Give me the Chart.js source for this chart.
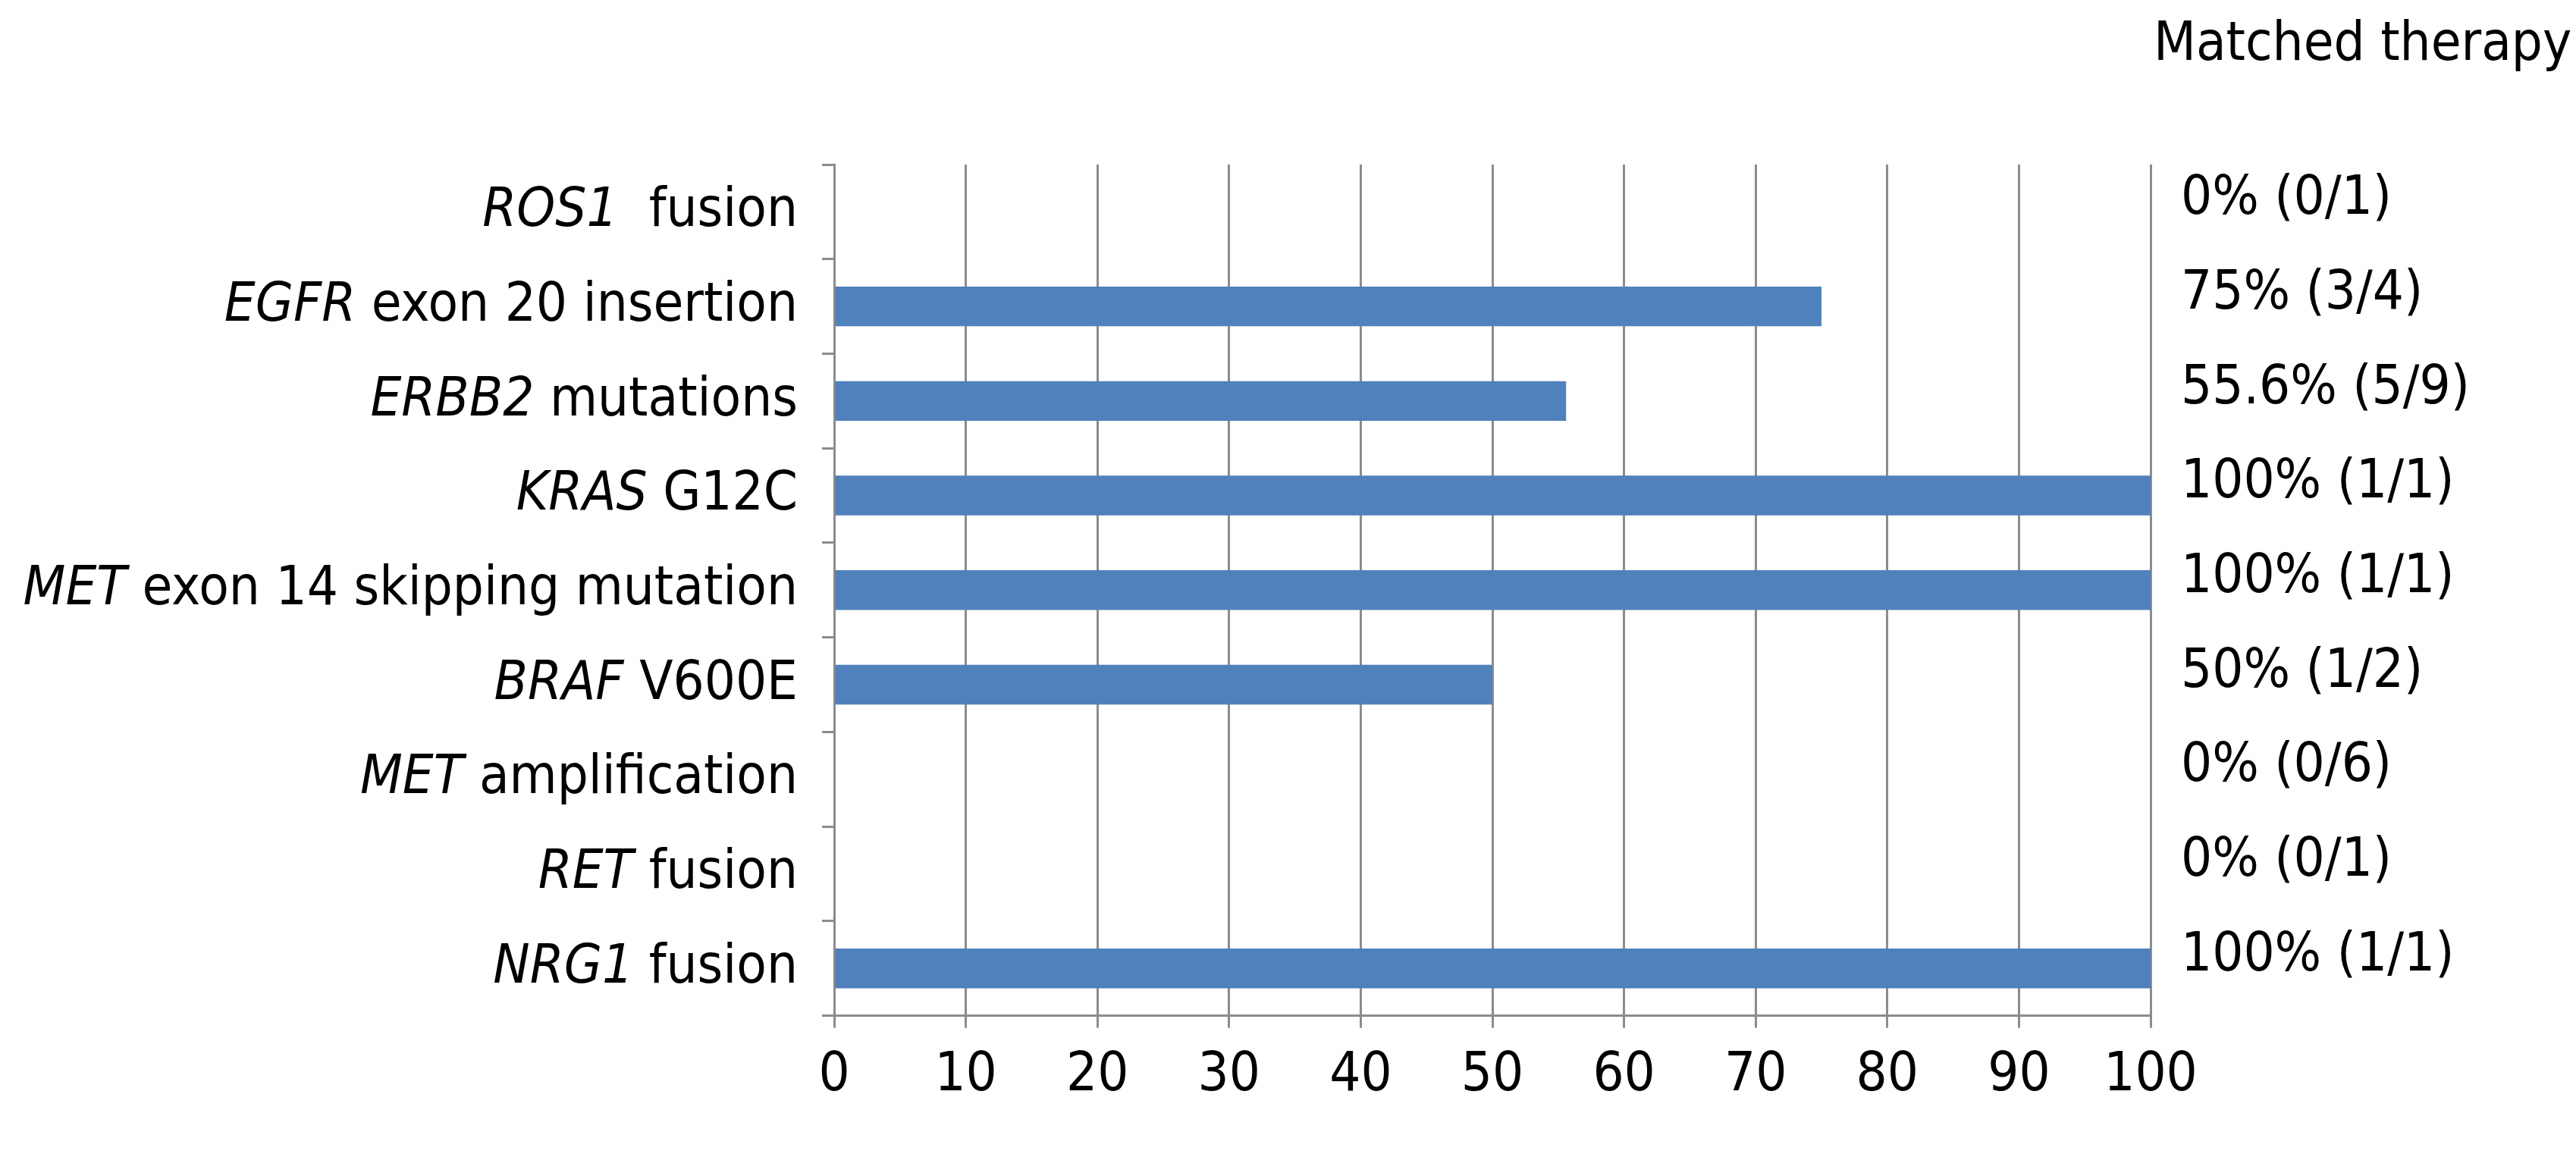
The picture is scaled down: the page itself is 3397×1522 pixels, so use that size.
<!DOCTYPE html>
<html><head><meta charset="utf-8">
<script src="https://cdn.jsdelivr.net/npm/chart.js@4"></script>
<style>html,body{margin:0;background:#fff}#wrap{width:3397px;height:1522px}</style>
</head><body><div id="wrap"><canvas id="c"></canvas></div>
<script>
const geneNames = ["ROS1","EGFR","ERBB2","KRAS","MET","BRAF","MET","RET","NRG1"];
const restNames = ["  fusion"," exon 20 insertion"," mutations"," G12C"," exon 14 skipping mutation"," V600E"," amplification"," fusion"," fusion"];
const values = [0,75,55.6,100,100,50,0,0,100];
const rightLabels = ["0% (0/1)","75% (3/4)","55.6% (5/9)","100% (1/1)","100% (1/1)","50% (1/2)","0% (0/6)","0% (0/1)","100% (1/1)"];
const headerText = "Matched therapy";
const FONT = '"Liberation Sans Narrow","DejaVu Sans Condensed",sans-serif';
const FS = 72;

const textPlugin = {
  id:'txt',
  afterDraw(chart){
    const ctx = chart.ctx, y = chart.scales.y, area = chart.chartArea;
    ctx.save();
    ctx.fillStyle = '#000';
    ctx.textBaseline = 'middle';
    geneNames.forEach((g,i)=>{
      const yc = y.getPixelForValue(i);
      ctx.font = `${FS}px ${FONT}`;
      const wr = ctx.measureText(restNames[i]).width;
      ctx.font = `italic ${FS}px ${FONT}`;
      const wg = ctx.measureText(g).width;
      const xr = area.left - 48;
      ctx.textAlign = 'left';
      ctx.fillText(g, xr - wr - wg, yc);
      ctx.font = `${FS}px ${FONT}`;
      ctx.fillText(restNames[i], xr - wr, yc);
      ctx.fillText(rightLabels[i], area.right + 40, yc - 16);
    });
    ctx.font = `${FS}px ${FONT}`;
    ctx.textAlign = 'left';
    ctx.fillText(headerText, area.right + 4, 60);
    ctx.restore();
  }
};

new Chart(document.getElementById('c'), {
  type:'bar',
  data:{ labels: geneNames.map((g,i)=>g+restNames[i]),
    datasets:[{ data: values, backgroundColor:'#4F81BD', borderColor:'#4F81BD',
      categoryPercentage:0.42, barPercentage:1 }]},
  options:{
    indexAxis:'y', responsive:true, maintainAspectRatio:false, animation:false,
    devicePixelRatio:1,
    layout:{ padding:{ left:1084, right:561, top:217, bottom:40 } },
    plugins:{ legend:{display:false}, tooltip:{enabled:false} },
    scales:{
      x:{ min:0, max:100, ticks:{ stepSize:10, color:'#000', font:{size:FS, family:FONT}, padding:20 },
        grid:{ color:'#8c8c8c', lineWidth:3, tickLength:16 }, border:{ color:'#8c8c8c', width:3 } },
      y:{ ticks:{ display:false }, grid:{ offset:true, drawOnChartArea:false, color:'#8c8c8c', lineWidth:3, tickLength:16 },
        border:{ color:'#8c8c8c', width:3 } }
    }
  },
  plugins:[textPlugin]
});
</script></body></html>
